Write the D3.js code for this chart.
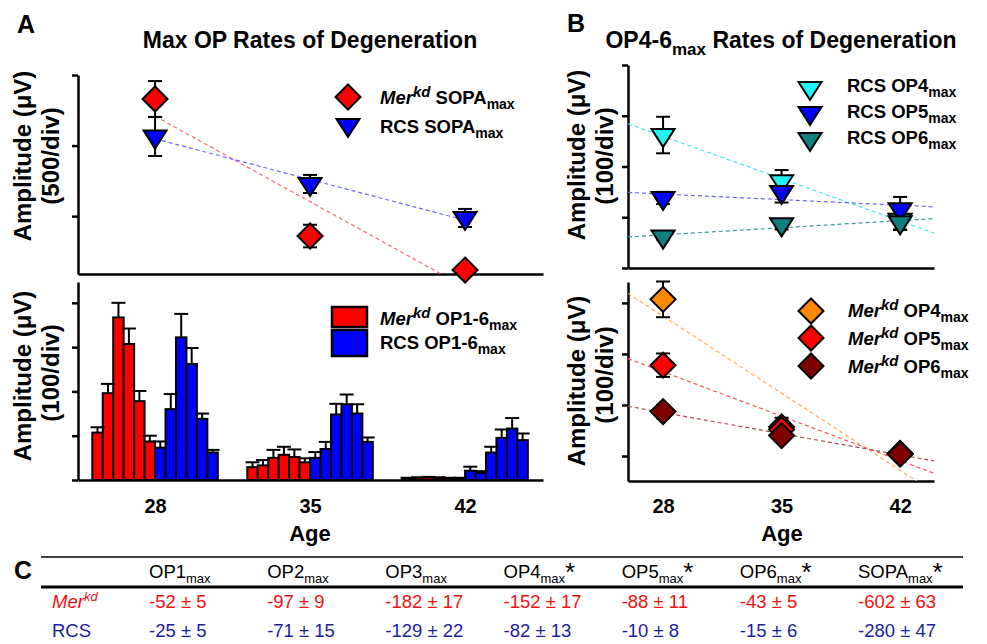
<!DOCTYPE html>
<html><head><meta charset="utf-8">
<script src="https://cdn.jsdelivr.net/npm/d3@7"></script>
<style>body{margin:0;background:#fff} svg{display:block} text{font-family:"Liberation Sans",Arial,sans-serif}</style>
</head><body>
<svg id="c" width="987" height="644"></svg>
<script>
// ---------- DATA ----------
const ages = [28, 35, 42];
// SOPA max (panel A top)
const sopaMerkd = [1830, 859, 618];
const sopaMerkdErr = [127, 80, 40];
const sopaRCS = [1564, 1228, 987];
const sopaRCSErr = [138, 64, 64];
// OP1..OP6 max amplitudes at each age
const merkd28 = [107, 196, 367, 307, 178, 87];
const merkd28Err = [12, 21, 33, 35, 23, 13];
const merkd35 = [29, 33, 50, 57, 52, 40];
const merkd35Err = [11, 12, 18, 18, 17, 9];
const merkd42 = [4, 5, 6, 5, 4, 4];
const merkd42Err = [1, 1, 1, 1, 1, 1];
const rcs28 = [73, 160, 322, 262, 138, 62];
const rcs28Err = [14, 34, 53, 36, 12, 6];
const rcs35 = [50, 70, 148, 171, 150, 86];
const rcs35Err = [13, 16, 24, 22, 21, 10];
const rcs42 = [21, 16, 62, 95, 116, 90];
const rcs42Err = [9, 4, 13, 19, 24, 15];
// table C
const tableCols = ["OP1", "OP2", "OP3", "OP4", "OP5", "OP6", "SOPA"];
const tableStar = [false, false, false, true, true, true, true];
const merkdRates = ["-52 ± 5", "-97 ± 9", "-182 ± 17", "-152 ± 17", "-88 ± 11", "-43 ± 5", "-602 ± 63"];
const rcsRates = ["-25 ± 5", "-71 ± 15", "-129 ± 22", "-82 ± 13", "-10 ± 8", "-15 ± 6", "-280 ± 47"];

// ---------- HELPERS ----------
const svg = d3.select("#c");
const merkdVals = [merkd28, merkd35, merkd42], merkdErrs = [merkd28Err, merkd35Err, merkd42Err];
const rcsVals = [rcs28, rcs35, rcs42], rcsErrs = [rcs28Err, rcs35Err, rcs42Err];
const col = (arrs, i) => arrs.map(a => a[i]);

function linreg(xs, ys) {
  const n = xs.length, mx = d3.mean(xs), my = d3.mean(ys);
  let sxy = 0, sxx = 0;
  for (let i = 0; i < n; i++) { sxy += (xs[i]-mx)*(ys[i]-my); sxx += (xs[i]-mx)**2; }
  const b = sxy/sxx; return x => my + b*(x-mx);
}
function rich(g, x, y, parts, base, attrs) {
  const t = g.append("text").attr("x", x).attr("y", y).attr("font-size", base);
  Object.entries(attrs || {}).forEach(([k, v]) => t.attr(k, v));
  let cur = 0;
  parts.forEach(p => {
    const s = t.append("tspan").text(p.t);
    let target = 0;
    if (p.sub) target = p.sub;
    if (p.sup) target = -p.sup;
    if (p.size) s.attr("font-size", p.size);
    if (p.italic) s.attr("font-style", "italic");
    if (target !== cur) { s.attr("dy", target - cur); cur = target; }
  });
  return t;
}
const diamond = r => `M0,${-r}L${r},0L0,${r}L${-r},0Z`;
const tri = (w, h) => `M${-w/2},${-h/3}L${w/2},${-h/3}L0,${2*h/3}Z`;
const DI = diamond(12.5), TR = tri(23, 18);

function axes(x, y, yTicks, xLabels, pad) {
  const ax = svg.append("g").attr("transform", `translate(${x.range()[0]},0)`)
    .call(d3.axisLeft(y).tickValues(yTicks).tickFormat("").tickSizeInner(6).tickSizeOuter(0));
  const bx = svg.append("g").attr("transform", `translate(0,${y.range()[0]})`)
    .call(d3.axisBottom(x).tickValues(xLabels ? ages : []).tickSizeInner(0).tickSizeOuter(0).tickPadding(pad || 0));
  [ax, bx].forEach(g => {
    g.select(".domain").attr("stroke", "#000").attr("stroke-width", 2.5);
    g.selectAll(".tick line").attr("stroke", "#000").attr("stroke-width", 2.5);
    g.selectAll(".tick text").attr("fill", "#000").attr("font-size", 20).attr("font-weight", "bold")
      .attr("font-family", '"Liberation Sans",Arial,sans-serif');
  });
}
let clipN = 0;
function clipFor(x, y) {
  const id = "clip" + (clipN++);
  svg.append("clipPath").attr("id", id).append("rect")
    .attr("x", x.range()[0]).attr("y", y.range()[1])
    .attr("width", x.range()[1] - x.range()[0]).attr("height", y.range()[0] - y.range()[1]);
  return `url(#${id})`;
}
function trend(x, y, vals, color, from, to, clip) {
  const f = linreg(ages, vals);
  svg.append("line").attr("clip-path", clip)
    .attr("x1", x(from)).attr("y1", y(f(from))).attr("x2", x(to)).attr("y2", y(f(to)))
    .attr("stroke", color).attr("stroke-width", 1.2).attr("stroke-dasharray", "4,3");
}
function errBars(x, y, vals, errs) {
  const g = svg.append("g").attr("stroke", "#000").attr("stroke-width", 2);
  ages.forEach((a, i) => {
    const cx = x(a), y1 = y(vals[i] + errs[i]), y2 = y(vals[i] - errs[i]);
    g.append("line").attr("x1", cx).attr("x2", cx).attr("y1", y1).attr("y2", y2);
    g.append("line").attr("x1", cx - 7).attr("x2", cx + 7).attr("y1", y1).attr("y2", y1);
    g.append("line").attr("x1", cx - 7).attr("x2", cx + 7).attr("y1", y2).attr("y2", y2);
  });
}
function markers(x, y, vals, path, fill) {
  svg.append("g").selectAll("path").data(vals).join("path")
    .attr("d", path).attr("transform", (d, i) => `translate(${x(ages[i])},${y(d)})`)
    .attr("fill", fill).attr("stroke", "#000").attr("stroke-width", 2);
}
function yTitle(x1, x2, cy1, cy2, unit) {
  svg.append("text").attr("transform", `translate(${x1},${cy1}) rotate(-90)`).attr("text-anchor", "middle")
    .attr("font-size", 24).attr("font-weight", "bold").text("Amplitude (μV)");
  svg.append("text").attr("transform", `translate(${x2},${cy2}) rotate(-90)`).attr("text-anchor", "middle")
    .attr("font-size", 24).attr("font-weight", "bold").text(unit);
}

// ---------- SCALES ----------
const xA = d3.scaleLinear().domain([24.52, 45.52]).range([78, 543]);
const yAt = d3.scaleLinear().domain([590, 2000]).range([274, 75]);
const yAb = d3.scaleLinear().domain([0, 447]).range([480, 282]);
const xB = d3.scaleLinear().domain([25.93, 44.0]).range([628, 934]);
const yBt = d3.scaleLinear().domain([0, 400]).range([268, 65]);
const yBb = d3.scaleLinear().domain([-49, 341]).range([481, 282]);

// ---------- LABELS / TITLES ----------
svg.append("text").attr("x", 17).attr("y", 33).attr("font-size", 25).attr("font-weight", "bold").text("A");
svg.append("text").attr("x", 567).attr("y", 32).attr("font-size", 25).attr("font-weight", "bold").text("B");
svg.append("text").attr("x", 14).attr("y", 579).attr("font-size", 25).attr("font-weight", "bold").text("C");
svg.append("text").attr("x", 310).attr("y", 48).attr("text-anchor", "middle").attr("font-size", 23)
  .attr("font-weight", "bold").text("Max OP Rates of Degeneration");
rich(svg, 781, 48, [{t: "OP4-6"}, {t: "max", sub: 7, size: 17}, {t: " Rates of Degeneration"}], 23,
  {"text-anchor": "middle", "font-weight": "bold"});

yTitle(31, 59, 156, 156, "(500/div)");
yTitle(31, 59, 376, 373, "(100/div)");
yTitle(585, 613, 155, 156, "(100/div)");
yTitle(585, 613, 381, 375, "(100/div)");

// ---------- PANEL A TOP ----------
axes(xA, yAt, [1000, 1500, 2000], false);
const cAt = clipFor(xA, yAt);
trend(xA, yAt, sopaMerkd, "#FF6A6A", 28, 42, cAt);
trend(xA, yAt, sopaRCS, "#6A6AFF", 28, 42, cAt);
errBars(xA, yAt, sopaMerkd, sopaMerkdErr);
errBars(xA, yAt, sopaRCS, sopaRCSErr);
markers(xA, yAt, sopaMerkd, DI, "#FF0000");
markers(xA, yAt, sopaRCS, TR, "#0000FF");
// legend
svg.append("path").attr("d", DI).attr("transform", "translate(348,97)").attr("fill", "#FF0000").attr("stroke", "#000").attr("stroke-width", 2);
svg.append("path").attr("d", TR).attr("transform", "translate(348,125)").attr("fill", "#0000FF").attr("stroke", "#000").attr("stroke-width", 2);
rich(svg, 380, 104, [{t: "Mer", italic: 1}, {t: "kd", italic: 1, sup: 7, size: 15}, {t: " SOPA"}, {t: "max", sub: 5, size: 14}], 18.5, {"font-weight": "bold"});
rich(svg, 380, 133, [{t: "RCS SOPA"}, {t: "max", sub: 5, size: 14}], 18.5, {"font-weight": "bold"});

// ---------- PANEL A BOTTOM (bars) ----------
const barW = 0.4725;
const gBars = svg.append("g");
const gBarErr = svg.append("g").attr("stroke", "#000").attr("stroke-width", 2);
ages.forEach((a, ai) => {
  const vals = merkdVals[ai].concat(rcsVals[ai]);
  const errs = merkdErrs[ai].concat(rcsErrs[ai]);
  vals.forEach((v, i) => {
    const x0 = xA(a + (i - 6) * barW), x1 = xA(a + (i - 5) * barW);
    gBars.append("rect").attr("x", x0).attr("y", yAb(v)).attr("width", x1 - x0).attr("height", yAb(0) - yAb(v))
      .attr("fill", i < 6 ? "#FF0000" : "#0000FF").attr("stroke", "#000").attr("stroke-width", 2);
    const cx = (x0 + x1) / 2, yt = yAb(v + errs[i]);
    gBarErr.append("line").attr("x1", cx).attr("x2", cx).attr("y1", yAb(v)).attr("y2", yt);
    gBarErr.append("line").attr("x1", cx - 7).attr("x2", cx + 7).attr("y1", yt).attr("y2", yt);
  });
});
axes(xA, yAb, [0, 100, 200, 300, 400], true, 19);
svg.append("rect").attr("x", 332).attr("y", 307).attr("width", 35).attr("height", 20).attr("fill", "#FF0000").attr("stroke", "#000").attr("stroke-width", 2.5);
svg.append("rect").attr("x", 332).attr("y", 330).attr("width", 35).attr("height", 26).attr("fill", "#0000FF").attr("stroke", "#000").attr("stroke-width", 2.5);
rich(svg, 380, 325, [{t: "Mer", italic: 1}, {t: "kd", italic: 1, sup: 7, size: 15}, {t: " OP1-6"}, {t: "max", sub: 5, size: 14}], 18.5, {"font-weight": "bold"});
rich(svg, 380, 349, [{t: "RCS OP1-6"}, {t: "max", sub: 5, size: 14}], 18.5, {"font-weight": "bold"});
svg.append("text").attr("x", 310).attr("y", 541).attr("text-anchor", "middle").attr("font-size", 22).attr("font-weight", "bold").text("Age");

// ---------- PANEL B TOP ----------
axes(xB, yBt, [0, 100, 200, 300, 400], false);
const cBt = clipFor(xB, yBt);
const rcsColors = ["#22F2F2", "#0000FF", "#0F7F7F"];
const rcsLine = ["#40E8E8", "#6666FF", "#3A9A9A"];
[3, 4, 5].forEach((op, k) => trend(xB, yBt, col(rcsVals, op), rcsLine[k], xB.domain()[0], xB.domain()[1], cBt));
[3, 4, 5].forEach((op, k) => errBars(xB, yBt, col(rcsVals, op), col(rcsErrs, op)));
[3, 4, 5].forEach((op, k) => markers(xB, yBt, col(rcsVals, op), TR, rcsColors[k]));
[88, 113, 139].forEach((yy, k) => {
  svg.append("path").attr("d", TR).attr("transform", `translate(810,${yy})`).attr("fill", rcsColors[k]).attr("stroke", "#000").attr("stroke-width", 2);
});
[92, 118, 144].forEach((yy, k) => rich(svg, 847, yy, [{t: "RCS OP" + (k + 4)}, {t: "max", sub: 5, size: 14}], 18.5, {"font-weight": "bold"}));

// ---------- PANEL B BOTTOM ----------
axes(xB, yBb, [0, 100, 200, 300], true, 18);
const cBb = clipFor(xB, yBb);
const merColors = ["#FF8800", "#FF0000", "#7F0000"];
const merLine = ["#FFB055", "#FF5555", "#A84A4A"];
[3, 4, 5].forEach((op, k) => trend(xB, yBb, col(merkdVals, op), merLine[k], xB.domain()[0], xB.domain()[1], cBb));
[3, 4, 5].forEach((op, k) => errBars(xB, yBb, col(merkdVals, op), col(merkdErrs, op)));
[3, 4, 5].forEach((op, k) => markers(xB, yBb, col(merkdVals, op), DI, merColors[k]));
[311, 338, 366].forEach((yy, k) => {
  svg.append("path").attr("d", DI).attr("transform", `translate(811,${yy})`).attr("fill", merColors[k]).attr("stroke", "#000").attr("stroke-width", 2);
});
[317, 345, 373].forEach((yy, k) => rich(svg, 848, yy, [{t: "Mer", italic: 1}, {t: "kd", italic: 1, sup: 7, size: 15}, {t: " OP" + (k + 4)}, {t: "max", sub: 5, size: 14}], 18.5, {"font-weight": "bold"}));
svg.append("text").attr("x", 782).attr("y", 541).attr("text-anchor", "middle").attr("font-size", 22).attr("font-weight", "bold").text("Age");

// ---------- TABLE C ----------
svg.append("line").attr("x1", 41).attr("x2", 963).attr("y1", 557).attr("y2", 557).attr("stroke", "#000").attr("stroke-width", 1.5);
svg.append("line").attr("x1", 41).attr("x2", 963).attr("y1", 587).attr("y2", 587).attr("stroke", "#000").attr("stroke-width", 3);
const colX = d3.scalePoint().domain(tableCols).range([149, 858]);
tableCols.forEach((c, i) => {
  const parts = [{t: c}, {t: "max", sub: 5, size: 13}];
  if (tableStar[i]) parts.push({t: "*", size: 26, sub: 3});
  rich(svg, colX(c), 578, parts, 18.5);
  svg.append("text").attr("x", colX(c)).attr("y", 608).attr("font-size", 18.5).attr("fill", "#F21010").text(merkdRates[i]);
  svg.append("text").attr("x", colX(c)).attr("y", 637).attr("font-size", 18.5).attr("fill", "#1C1CA0").text(rcsRates[i]);
});
rich(svg, 52, 608, [{t: "Mer", italic: 1}, {t: "kd", italic: 1, sup: 7, size: 13}], 18.5, {fill: "#F21010"});
svg.append("text").attr("x", 52).attr("y", 637).attr("font-size", 18.5).attr("fill", "#1C1CA0").text("RCS");
</script>
</body></html>
